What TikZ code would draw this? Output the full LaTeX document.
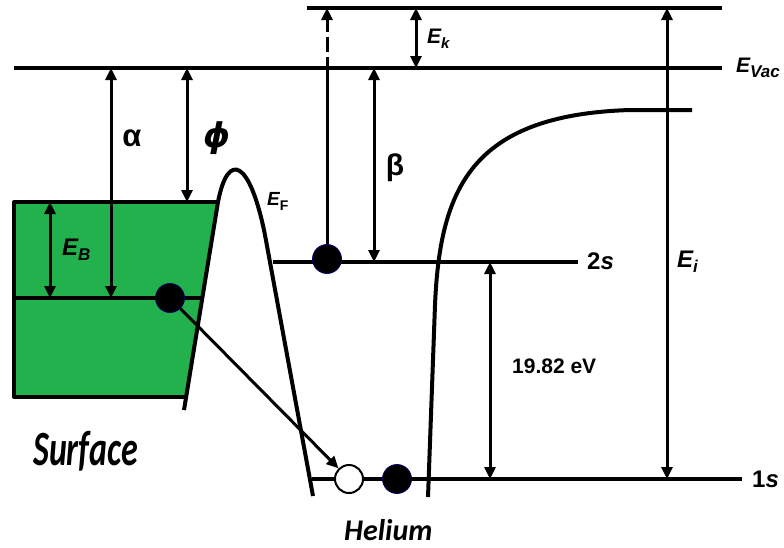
\RequirePackage{fix-cm}
\documentclass[tikz,border=0pt]{standalone}
\usepackage{fontspec}
\setmainfont{Liberation Sans}
\newfontfamily\calib{Carlito}
\newfontfamily\dejavu{DejaVu Sans}
\usetikzlibrary{arrows.meta,positioning}
\definecolor{surfgreen}{RGB}{34,177,76}
\newcommand{\lsub}[2]{\raisebox{-5pt}{\fontsize{#1}{#1}\selectfont #2}}

\begin{document}
\begin{tikzpicture}[
  x=1pt, y=-1pt,
  level/.style={line width=4pt},
  wall/.style={line width=4pt, line join=round},
  shaft/.style={line width=3pt},
  dbl/.style={{Triangle[length=12pt,width=11pt]}-{Triangle[length=12pt,width=11pt]}, line width=3pt},
  arr/.style={-{Triangle[length=12pt,width=11pt]}, line width=3pt},
  elec/.style={circle, draw=black!60!blue, line width=0.8pt, fill=black, minimum size=29pt, inner sep=0pt},
  hole/.style={circle, draw=black, line width=2pt, fill=white, minimum size=28pt, inner sep=0pt},
  lab/.style={anchor=base west, inner sep=0pt, font=\bfseries\itshape}
]
\useasboundingbox (0,0) rectangle (784,547);
% energy levels
\coordinate (topL) at (307,8);   \coordinate (topR) at (722,8);
\coordinate (vacL) at (14,68);   \coordinate (vacR) at (722,68);
\coordinate (twosL) at (273,262); \coordinate (twosR) at (578,262);
\coordinate (onesL) at (312,479); \coordinate (onesR) at (742,479);
% surface box
\coordinate (boxTL) at (14,202); \coordinate (boxTR) at (218,202);
\coordinate (boxBL) at (14,397); \coordinate (boxBR) at (186,397);
\coordinate (midL) at (14,298);  \coordinate (midR) at (202,298);
\coordinate (wallB) at (184,410);
\coordinate (heL) at (313,496);  \coordinate (heR) at (428,497);
\coordinate (heTop) at (692,110);
% arrow columns
\coordinate (cEB) at (50,0);   \coordinate (ca) at (111,0);
\coordinate (cphi) at (187,0); \coordinate (cb) at (374,0);
\coordinate (ck) at (416,0);   \coordinate (cgap) at (490,0);
\coordinate (ci) at (667,0);
\coordinate (hs1) at (327,57); \coordinate (hs2) at (327,52);

\fill[surfgreen] (boxTL) -- (boxTR) -- (boxBR) -- (boxBL) -- cycle;
\draw[level] (topL) -- (topR);
\draw[level] (vacL) -- (vacR);
\draw[level] (twosL) -- (twosR);
\draw[level] (onesL) -- (onesR);
\draw[level] (midL) -- (midR);
\draw[wall] (boxTR) -- (boxTL) -- (boxBL) -- (boxBR);
\draw[wall] (wallB) -- (boxTR) .. controls (228,150) and (250,160) .. (265,235) -- (heL);
\draw[wall] (heR) -- (435,305) .. controls (440,190) and (470,115) .. (630,110) -- (heTop);

\draw[dbl] (cEB |- boxTL) -- (cEB |- midL);
\draw[dbl] (ca |- vacL) -- (ca |- midL);
\draw[dbl] (cphi |- vacL) -- (cphi |- boxTL);
\draw[dbl] (cb |- vacL) -- (cb |- twosL);
\draw[dbl] (ck |- topL) -- (ck |- vacL);
\draw[dbl] (cgap |- twosL) -- (cgap |- onesL);
\draw[dbl] (ci |- topL) -- (ci |- onesL);

% electrons
\node[elec] (surfe) at (170,298) {};
\node[elec] (he2s) at (327,259) {};
\node[hole] (hole) at (349,479) {};
\node[elec] (he1s) at (397,479) {};
\draw[arr] (surfe) -- (hole);
\draw[shaft] (he2s) -- (hs1);
\draw[arr, dash pattern=on 15pt off 5pt] (hs2) -- (he2s |- topL);

% labels
\node[font=\fontsize{31}{31}\selectfont\bfseries] (alpha) at (132,138) {α};
\node[font=\fontsize{34}{34}\dejavu\bfseries\itshape] (phi) at (217,138) {ϕ};
\node[font=\fontsize{30}{30}\selectfont\bfseries] (beta) at (395,168) {β};
\node[lab, font=\fontsize{24}{24}\selectfont\bfseries\itshape] (EB) at (62,255) {E\lsub{17}{B}};
\node[lab, font=\fontsize{19}{19}\selectfont\bfseries\itshape] (EF) at (267,205) {E\lsub{14}{\upshape F}};
\node[lab, font=\fontsize{21}{21}\selectfont\bfseries\itshape] (Evac) at (736,72) {E\lsub{17}{Vac}};
\node[lab, font=\fontsize{21}{21}\selectfont\bfseries\itshape] (Ek) at (427,43) {E\lsub{15}{k}};
\node[lab, font=\fontsize{24}{24}\selectfont\bfseries\itshape] (Ei) at (677,267) {E\lsub{17}{i}};
\node[lab, font=\fontsize{24}{24}\selectfont\bfseries\itshape] (twos) at (587,269) {{\upshape 2}s};
\node[lab, font=\fontsize{24}{24}\selectfont\bfseries\itshape] (ones) at (752,487) {{\upshape 1}s};
\node[lab, font=\fontsize{21}{21}\selectfont\bfseries] (gap) at (512,373) {19.82 eV};
\node[lab, font=\fontsize{34}{34}\calib\bfseries\itshape] (surf) at (33,465) {\scalebox{1}[1.45]{Surface}};
\node[lab, font=\fontsize{30}{30}\calib\bfseries\itshape] (helium) at (344,540) {Helium};
\end{tikzpicture}
\end{document}
